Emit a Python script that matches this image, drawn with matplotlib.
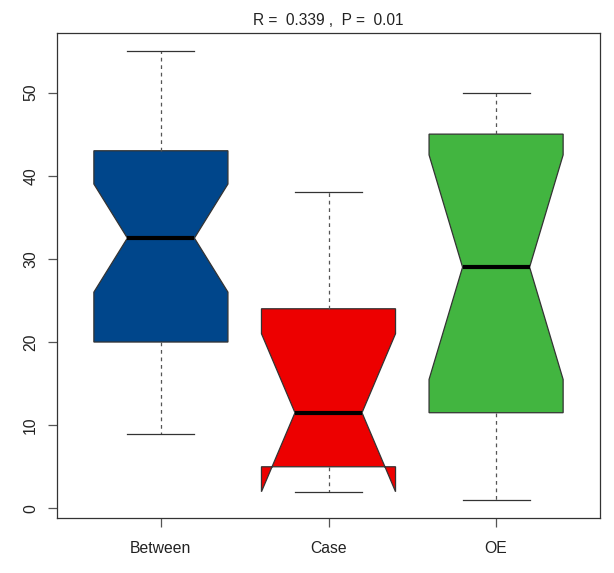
import matplotlib
matplotlib.use("Agg")
import matplotlib.pyplot as plt

categories = ["Between", "Case", "OE"]
whislo = [9, 2, 1]
q1 = [20, 5, 11.5]
med = [32.5, 11.5, 29]
q3 = [43, 24, 45]
whishi = [55, 38, 50]
cilo = [26, 2, 15.5]
cihi = [39, 21, 42.5]
colors = ["#00468B", "#ED0000", "#42B540"]
title = "R =  0.339 ,  P =  0.01"
yticks = [0, 10, 20, 30, 40, 50]

plt.rcParams['font.family'] = ['Liberation Sans', 'DejaVu Sans']

fig = plt.figure(figsize=(6.14, 5.73), dpi=100)
ax = fig.add_axes([57/614, 1 - 518/573, (600-57)/614, (518-33)/573])

stats = []
for i, c in enumerate(categories):
    stats.append(dict(label=c, whislo=whislo[i], q1=q1[i], med=med[i],
                      q3=q3[i], whishi=whishi[i], cilo=cilo[i], cihi=cihi[i],
                      fliers=[]))

bp = ax.bxp(stats, positions=[1, 2, 3], widths=0.8, shownotches=True,
            patch_artist=True, showfliers=False,
            boxprops=dict(edgecolor="#333333", linewidth=0.9),
            whiskerprops=dict(color="#555555", linewidth=0.9, linestyle=(0, (3, 3))),
            capprops=dict(color="#333333", linewidth=0.9),
            medianprops=dict(color="black", linewidth=3, solid_capstyle="butt"))
for patch, col in zip(bp["boxes"], colors):
    patch.set_facecolor(col)

lo = min(whislo); hi = max(whishi)
r = hi - lo
ax.set_ylim(lo - 0.04 * r, hi + 0.04 * r)
ax.set_xlim(0.5 - 0.12, 3.5 + 0.12)
ax.set_yticks(yticks)
ax.set_yticklabels([str(t) for t in yticks], rotation=90, va="center")
ax.set_xticks([1, 2, 3])
ax.set_xticklabels(categories)
ax.tick_params(axis="both", length=6.5, width=0.9, color="#555555",
               labelsize=11.3, labelcolor="#222222")
ax.tick_params(axis="x", pad=10)
ax.tick_params(axis="y", pad=7)
for s in ax.spines.values():
    s.set_color("#333333")
    s.set_linewidth(0.9)
ax.set_title(title, fontsize=11.2, color="#222222", pad=6)

fig.savefig("out.png", dpi=100)
